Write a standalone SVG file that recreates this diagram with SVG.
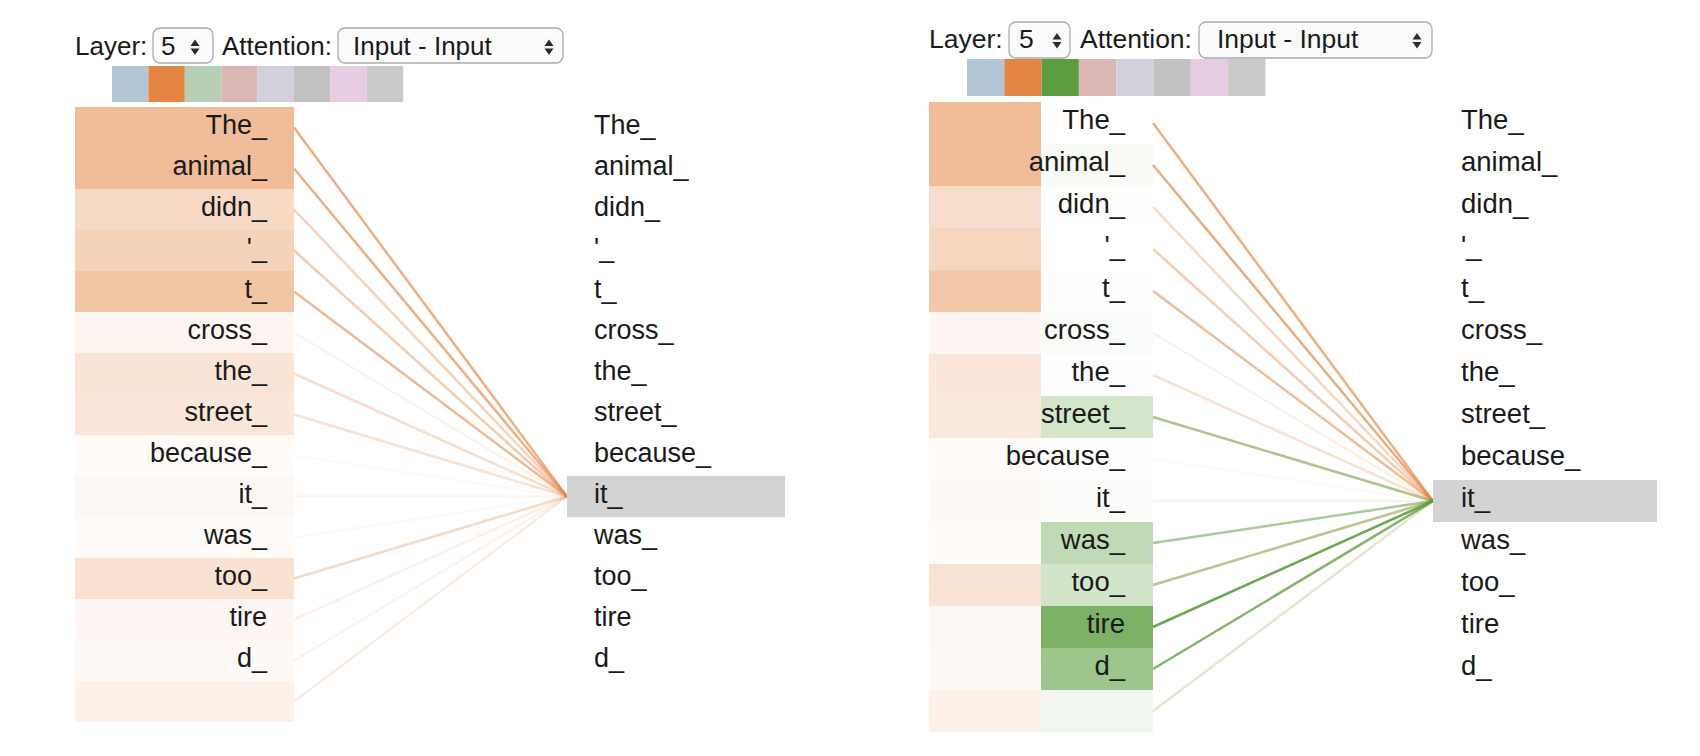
<svg xmlns="http://www.w3.org/2000/svg" width="1700" height="756" viewBox="0 0 1700 756">
  <style>
    text { font-family: "Liberation Sans", Arial, Helvetica, sans-serif; fill: #1a1a1a; }
    .hdr { font-size: 26px; }
    .hdrR { font-size: 26.5px; }
    .tokL { font-size: 27px; text-anchor: end; }
    .tokLR { font-size: 27px; }
    .tokR { font-size: 27.5px; text-anchor: end; }
    .tokRR { font-size: 27.5px; }
    .sel { fill: #fbfbfb; stroke: #ababab; stroke-width: 1.3; }
    .arr { fill: #2a2a2a; }
    .or { fill: #e48643; }
    .gr { fill: #5c9e3f; }
    .lo { stroke: #e48643; stroke-width: 2.5; fill: none; }
    .lg { stroke: #5c9e3f; stroke-width: 2.5; fill: none; }
    .focus { fill: #d3d3d3; }
  </style>

  <!-- ===== Left view: single head ===== -->
  <g id="left-controls">
    <text class="hdr" x="75" y="55">Layer:</text>
    <rect class="sel" x="153" y="28" width="60" height="35" rx="7"/>
    <text class="hdr" x="161" y="55">5</text>
    <polygon class="arr" points="190.5,46 199.5,46 195,39.5"/>
    <polygon class="arr" points="190.5,48.5 199.5,48.5 195,55"/>
    <text class="hdr" x="222" y="55">Attention:</text>
    <rect class="sel" x="338" y="28" width="225" height="35" rx="7"/>
    <text class="hdr" x="353" y="55">Input - Input</text>
    <polygon class="arr" points="544.5,46 553.5,46 549,39.5"/>
    <polygon class="arr" points="544.5,48.5 553.5,48.5 549,55"/>
  </g>
  <g id="left-heads">
    <rect x="112" y="66" width="36.4" height="36" fill="#b3c6d6"/>
    <rect x="148.4" y="66" width="36.4" height="36" fill="#e48643"/>
    <rect x="184.8" y="66" width="36.4" height="36" fill="#b7cfb5"/>
    <rect x="221.2" y="66" width="36.4" height="36" fill="#dcb7b6"/>
    <rect x="257.6" y="66" width="36.4" height="36" fill="#d3d0dc"/>
    <rect x="294" y="66" width="36.4" height="36" fill="#c2c2c2"/>
    <rect x="330.4" y="66" width="36.4" height="36" fill="#e6cde3"/>
    <rect x="366.8" y="66" width="36.4" height="36" fill="#cacaca"/>
  </g>

  <g id="left-connectors">
    <line class="lo" x1="294" y1="127.5" x2="567" y2="496.5" stroke-opacity="0.66"/>
    <line class="lo" x1="294" y1="168.5" x2="567" y2="496.5" stroke-opacity="0.66"/>
    <line class="lo" x1="294" y1="209.5" x2="567" y2="496.5" stroke-opacity="0.36"/>
    <line class="lo" x1="294" y1="250.5" x2="567" y2="496.5" stroke-opacity="0.43"/>
    <line class="lo" x1="294" y1="291.5" x2="567" y2="496.5" stroke-opacity="0.58"/>
    <line class="lo" x1="294" y1="332.5" x2="567" y2="496.5" stroke-opacity="0.10"/>
    <line class="lo" x1="294" y1="373.5" x2="567" y2="496.5" stroke-opacity="0.27"/>
    <line class="lo" x1="294" y1="414.5" x2="567" y2="496.5" stroke-opacity="0.24"/>
    <line class="lo" x1="294" y1="455.5" x2="567" y2="496.5" stroke-opacity="0.04"/>
    <line class="lo" x1="294" y1="496.5" x2="567" y2="496.5" stroke-opacity="0.08"/>
    <line class="lo" x1="294" y1="537.5" x2="567" y2="496.5" stroke-opacity="0.05"/>
    <line class="lo" x1="294" y1="578.5" x2="567" y2="496.5" stroke-opacity="0.30"/>
    <line class="lo" x1="294" y1="619.5" x2="567" y2="496.5" stroke-opacity="0.12"/>
    <line class="lo" x1="294" y1="660.5" x2="567" y2="496.5" stroke-opacity="0.10"/>
    <line class="lo" x1="294" y1="701.5" x2="567" y2="496.5" stroke-opacity="0.16"/>
  </g>

  <g id="left-source">
    <g id="lsrc-0"><rect class="or" x="75" y="107" width="219" height="41" fill-opacity="0.55"/><text class="tokL" x="267" y="134">The_</text></g>
    <g id="lsrc-1"><rect class="or" x="75" y="148" width="219" height="41" fill-opacity="0.55"/><text class="tokL" x="267" y="175">animal_</text></g>
    <g id="lsrc-2"><rect class="or" x="75" y="189" width="219" height="41" fill-opacity="0.30"/><text class="tokL" x="267" y="216">didn_</text></g>
    <g id="lsrc-3"><rect class="or" x="75" y="230" width="219" height="41" fill-opacity="0.36"/><text class="tokL" x="267" y="257">'_</text></g>
    <g id="lsrc-4"><rect class="or" x="75" y="271" width="219" height="41" fill-opacity="0.48"/><text class="tokL" x="267" y="298">t_</text></g>
    <g id="lsrc-5"><rect class="or" x="75" y="312" width="219" height="41" fill-opacity="0.08"/><text class="tokL" x="267" y="339">cross_</text></g>
    <g id="lsrc-6"><rect class="or" x="75" y="353" width="219" height="41" fill-opacity="0.22"/><text class="tokL" x="267" y="380">the_</text></g>
    <g id="lsrc-7"><rect class="or" x="75" y="394" width="219" height="41" fill-opacity="0.20"/><text class="tokL" x="267" y="421">street_</text></g>
    <g id="lsrc-8"><rect class="or" x="75" y="435" width="219" height="41" fill-opacity="0.03"/><text class="tokL" x="267" y="462">because_</text></g>
    <g id="lsrc-9"><rect class="or" x="75" y="476" width="219" height="41" fill-opacity="0.06"/><text class="tokL" x="267" y="503">it_</text></g>
    <g id="lsrc-10"><rect class="or" x="75" y="517" width="219" height="41" fill-opacity="0.03"/><text class="tokL" x="267" y="544">was_</text></g>
    <g id="lsrc-11"><rect class="or" x="75" y="558" width="219" height="41" fill-opacity="0.24"/><text class="tokL" x="267" y="585">too_</text></g>
    <g id="lsrc-12"><rect class="or" x="75" y="599" width="219" height="41" fill-opacity="0.07"/><text class="tokL" x="267" y="626">tire</text></g>
    <g id="lsrc-13"><rect class="or" x="75" y="640" width="219" height="41" fill-opacity="0.05"/><text class="tokL" x="267" y="667">d_</text></g>
    <g id="lsrc-14"><rect class="or" x="75" y="681" width="219" height="41" fill-opacity="0.12"/></g>
  </g>

  <g id="left-target">
    <g id="ltgt-9"><rect class="focus" x="567" y="476" width="218" height="41"/><text class="tokLR" x="594" y="503">it_</text></g>
    <g id="ltgt-0"><text class="tokLR" x="594" y="134">The_</text></g>
    <g id="ltgt-1"><text class="tokLR" x="594" y="175">animal_</text></g>
    <g id="ltgt-2"><text class="tokLR" x="594" y="216">didn_</text></g>
    <g id="ltgt-3"><text class="tokLR" x="594" y="257">'_</text></g>
    <g id="ltgt-4"><text class="tokLR" x="594" y="298">t_</text></g>
    <g id="ltgt-5"><text class="tokLR" x="594" y="339">cross_</text></g>
    <g id="ltgt-6"><text class="tokLR" x="594" y="380">the_</text></g>
    <g id="ltgt-7"><text class="tokLR" x="594" y="421">street_</text></g>
    <g id="ltgt-8"><text class="tokLR" x="594" y="462">because_</text></g>
    <g id="ltgt-10"><text class="tokLR" x="594" y="544">was_</text></g>
    <g id="ltgt-11"><text class="tokLR" x="594" y="585">too_</text></g>
    <g id="ltgt-12"><text class="tokLR" x="594" y="626">tire</text></g>
    <g id="ltgt-13"><text class="tokLR" x="594" y="667">d_</text></g>
  </g>

  <!-- ===== Right view: two heads ===== -->
  <g id="right-controls">
    <text class="hdrR" x="929" y="48">Layer:</text>
    <rect class="sel" x="1009" y="22" width="61" height="36" rx="7"/>
    <text class="hdrR" x="1019" y="48">5</text>
    <polygon class="arr" points="1052.5,39.5 1061.5,39.5 1057,33"/>
    <polygon class="arr" points="1052.5,42 1061.5,42 1057,48.5"/>
    <text class="hdrR" x="1080" y="48">Attention:</text>
    <rect class="sel" x="1199" y="22" width="233" height="36" rx="7"/>
    <text class="hdrR" x="1217" y="48">Input - Input</text>
    <polygon class="arr" points="1412.5,39.5 1421.5,39.5 1417,33"/>
    <polygon class="arr" points="1412.5,42 1421.5,42 1417,48.5"/>
  </g>
  <g id="right-heads">
    <rect x="967" y="59" width="37.3" height="37" fill="#b3c6d6"/>
    <rect x="1004.3" y="59" width="37.3" height="37" fill="#e48643"/>
    <rect x="1041.6" y="59" width="37.3" height="37" fill="#5c9e3f"/>
    <rect x="1078.9" y="59" width="37.3" height="37" fill="#dcb7b6"/>
    <rect x="1116.2" y="59" width="37.3" height="37" fill="#d3d0dc"/>
    <rect x="1153.5" y="59" width="37.3" height="37" fill="#c2c2c2"/>
    <rect x="1190.8" y="59" width="37.3" height="37" fill="#e6cde3"/>
    <rect x="1228.1" y="59" width="37.3" height="37" fill="#cacaca"/>
  </g>

  <g id="right-connectors">
    <g id="right-connectors-orange">
      <line class="lo" x1="1153" y1="123" x2="1433" y2="501" stroke-opacity="0.66"/>
      <line class="lo" x1="1153" y1="165" x2="1433" y2="501" stroke-opacity="0.66"/>
      <line class="lo" x1="1153" y1="207" x2="1433" y2="501" stroke-opacity="0.34"/>
      <line class="lo" x1="1153" y1="249" x2="1433" y2="501" stroke-opacity="0.41"/>
      <line class="lo" x1="1153" y1="291" x2="1433" y2="501" stroke-opacity="0.55"/>
      <line class="lo" x1="1153" y1="333" x2="1433" y2="501" stroke-opacity="0.09"/>
      <line class="lo" x1="1153" y1="375" x2="1433" y2="501" stroke-opacity="0.24"/>
      <line class="lo" x1="1153" y1="417" x2="1433" y2="501" stroke-opacity="0.22"/>
      <line class="lo" x1="1153" y1="459" x2="1433" y2="501" stroke-opacity="0.04"/>
      <line class="lo" x1="1153" y1="501" x2="1433" y2="501" stroke-opacity="0.07"/>
      <line class="lo" x1="1153" y1="543" x2="1433" y2="501" stroke-opacity="0.04"/>
      <line class="lo" x1="1153" y1="585" x2="1433" y2="501" stroke-opacity="0.28"/>
      <line class="lo" x1="1153" y1="627" x2="1433" y2="501" stroke-opacity="0.09"/>
      <line class="lo" x1="1153" y1="669" x2="1433" y2="501" stroke-opacity="0.08"/>
      <line class="lo" x1="1153" y1="711" x2="1433" y2="501" stroke-opacity="0.15"/>
    </g>
    <g id="right-connectors-green">
      <line class="lg" x1="1153" y1="165" x2="1433" y2="501" stroke-opacity="0.04"/>
      <line class="lg" x1="1153" y1="333" x2="1433" y2="501" stroke-opacity="0.03"/>
      <line class="lg" x1="1153" y1="417" x2="1433" y2="501" stroke-opacity="0.45"/>
      <line class="lg" x1="1153" y1="501" x2="1433" y2="501" stroke-opacity="0.03"/>
      <line class="lg" x1="1153" y1="543" x2="1433" y2="501" stroke-opacity="0.52"/>
      <line class="lg" x1="1153" y1="585" x2="1433" y2="501" stroke-opacity="0.38"/>
      <line class="lg" x1="1153" y1="627" x2="1433" y2="501" stroke-opacity="0.9"/>
      <line class="lg" x1="1153" y1="669" x2="1433" y2="501" stroke-opacity="0.75"/>
      <line class="lg" x1="1153" y1="711" x2="1433" y2="501" stroke-opacity="0.10"/>
    </g>
  </g>

  <g id="right-source">
    <g id="rsrc-0"><rect class="or" x="929" y="102" width="112" height="42" fill-opacity="0.55"/><text class="tokR" x="1125" y="129">The_</text></g>
    <g id="rsrc-1"><rect class="or" x="929" y="144" width="112" height="42" fill-opacity="0.55"/><rect class="gr" x="1041" y="144" width="112" height="42" fill-opacity="0.04"/><text class="tokR" x="1125" y="171">animal_</text></g>
    <g id="rsrc-2"><rect class="or" x="929" y="186" width="112" height="42" fill-opacity="0.28"/><rect class="gr" x="1041" y="186" width="112" height="42" fill-opacity="0.01"/><text class="tokR" x="1125" y="213">didn_</text></g>
    <g id="rsrc-3"><rect class="or" x="929" y="228" width="112" height="42" fill-opacity="0.34"/><text class="tokR" x="1125" y="255">'_</text></g>
    <g id="rsrc-4"><rect class="or" x="929" y="270" width="112" height="42" fill-opacity="0.45"/><rect class="gr" x="1041" y="270" width="112" height="42" fill-opacity="0.01"/><text class="tokR" x="1125" y="297">t_</text></g>
    <g id="rsrc-5"><rect class="or" x="929" y="312" width="112" height="42" fill-opacity="0.07"/><rect class="gr" x="1041" y="312" width="112" height="42" fill-opacity="0.03"/><text class="tokR" x="1125" y="339">cross_</text></g>
    <g id="rsrc-6"><rect class="or" x="929" y="354" width="112" height="42" fill-opacity="0.20"/><rect class="gr" x="1041" y="354" width="112" height="42" fill-opacity="0.01"/><text class="tokR" x="1125" y="381">the_</text></g>
    <g id="rsrc-7"><rect class="or" x="929" y="396" width="112" height="42" fill-opacity="0.19"/><rect class="gr" x="1041" y="396" width="112" height="42" fill-opacity="0.27"/><text class="tokR" x="1125" y="423">street_</text></g>
    <g id="rsrc-8"><rect class="or" x="929" y="438" width="112" height="42" fill-opacity="0.03"/><rect class="gr" x="1041" y="438" width="112" height="42" fill-opacity="0.01"/><text class="tokR" x="1125" y="465">because_</text></g>
    <g id="rsrc-9"><rect class="or" x="929" y="480" width="112" height="42" fill-opacity="0.05"/><rect class="gr" x="1041" y="480" width="112" height="42" fill-opacity="0.02"/><text class="tokR" x="1125" y="507">it_</text></g>
    <g id="rsrc-10"><rect class="or" x="929" y="522" width="112" height="42" fill-opacity="0.03"/><rect class="gr" x="1041" y="522" width="112" height="42" fill-opacity="0.38"/><text class="tokR" x="1125" y="549">was_</text></g>
    <g id="rsrc-11"><rect class="or" x="929" y="564" width="112" height="42" fill-opacity="0.23"/><rect class="gr" x="1041" y="564" width="112" height="42" fill-opacity="0.28"/><text class="tokR" x="1125" y="591">too_</text></g>
    <g id="rsrc-12"><rect class="or" x="929" y="606" width="112" height="42" fill-opacity="0.06"/><rect class="gr" x="1041" y="606" width="112" height="42" fill-opacity="0.80"/><text class="tokR" x="1125" y="633">tire</text></g>
    <g id="rsrc-13"><rect class="or" x="929" y="648" width="112" height="42" fill-opacity="0.05"/><rect class="gr" x="1041" y="648" width="112" height="42" fill-opacity="0.60"/><text class="tokR" x="1125" y="675">d_</text></g>
    <g id="rsrc-14"><rect class="or" x="929" y="690" width="112" height="42" fill-opacity="0.12"/><rect class="gr" x="1041" y="690" width="112" height="42" fill-opacity="0.08"/></g>
  </g>

  <g id="right-target">
    <g id="rtgt-9"><rect class="focus" x="1433" y="480" width="224" height="42"/><text class="tokRR" x="1461" y="507">it_</text></g>
    <g id="rtgt-0"><text class="tokRR" x="1461" y="129">The_</text></g>
    <g id="rtgt-1"><text class="tokRR" x="1461" y="171">animal_</text></g>
    <g id="rtgt-2"><text class="tokRR" x="1461" y="213">didn_</text></g>
    <g id="rtgt-3"><text class="tokRR" x="1461" y="255">'_</text></g>
    <g id="rtgt-4"><text class="tokRR" x="1461" y="297">t_</text></g>
    <g id="rtgt-5"><text class="tokRR" x="1461" y="339">cross_</text></g>
    <g id="rtgt-6"><text class="tokRR" x="1461" y="381">the_</text></g>
    <g id="rtgt-7"><text class="tokRR" x="1461" y="423">street_</text></g>
    <g id="rtgt-8"><text class="tokRR" x="1461" y="465">because_</text></g>
    <g id="rtgt-10"><text class="tokRR" x="1461" y="549">was_</text></g>
    <g id="rtgt-11"><text class="tokRR" x="1461" y="591">too_</text></g>
    <g id="rtgt-12"><text class="tokRR" x="1461" y="633">tire</text></g>
    <g id="rtgt-13"><text class="tokRR" x="1461" y="675">d_</text></g>
  </g>
</svg>
